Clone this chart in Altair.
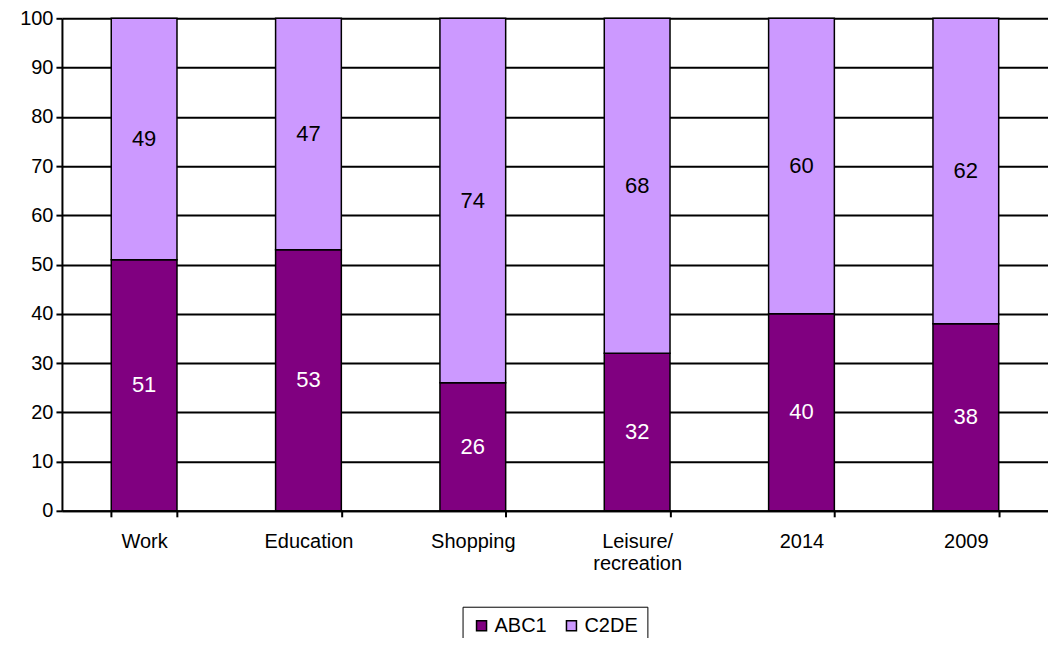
import altair as alt
import pandas as pd

categories = ["Work", "Education", "Shopping", "Leisure/recreation", "2014", "2009"]
abc1 = [51, 53, 26, 32, 40, 38]
c2de = [49, 47, 74, 68, 60, 62]
groups = ["ABC1", "C2DE"]
colors = ["#800080", "#CC99FF"]
text_colors = ["white", "black"]

rows = []
for i, c in enumerate(categories):
    rows.append({"cat": c, "group": "ABC1", "value": abc1[i], "ord": 0, "tc": text_colors[0]})
    rows.append({"cat": c, "group": "C2DE", "value": c2de[i], "ord": 1, "tc": text_colors[1]})
df = pd.DataFrame(rows)

FONT = "Liberation Sans"
FS = 20

x = alt.X("cat:N", sort=categories, title=None,
          scale=alt.Scale(paddingInner=0.6, paddingOuter=0.3),
          axis=alt.Axis(labelAngle=0, tickBand="extent", domainColor="black", domainWidth=2,
                        tickColor="black", tickWidth=2, tickSize=6, labelFontSize=FS,
                        labelFont=FONT, labelColor="black", labelPadding=15,
                        labelExpr="datum.value == 'Leisure/recreation' ? ['Leisure/', 'recreation'] : datum.value",
                        labelLineHeight=22))

base = alt.Chart(df).transform_stack(
    stack="value", groupby=["cat"], as_=["y0", "y1"], sort=[alt.SortField("ord", "ascending")]
).transform_calculate(mid="(datum.y0 + datum.y1) / 2")

bars = base.mark_bar(stroke="black", strokeWidth=1.5).encode(
    x=x,
    y=alt.Y("y0:Q", title=None,
            scale=alt.Scale(domain=[0, 100], nice=False),
            axis=alt.Axis(values=list(range(0, 101, 10)), grid=True, gridColor="black", gridWidth=2,
                          gridOpacity=1, domainColor="black", domainWidth=2, tickColor="black",
                          tickWidth=2, tickSize=6, labelFontSize=FS, labelFont=FONT,
                          labelColor="black", labelPadding=3)),
    y2="y1:Q",
    fill=alt.Fill("group:N", scale=alt.Scale(domain=groups, range=colors),
                  legend=alt.Legend(title=None, orient="none", legendX=401, legendY=589,
                                    direction="horizontal", symbolType="square", symbolSize=100,
                                    symbolStrokeColor="black", symbolStrokeWidth=1.5,
                                    labelFontSize=FS, labelFont=FONT, labelColor="black",
                                    labelOffset=3, columnPadding=14, padding=9,
                                    strokeColor="black", fillColor="white")),
)

labels = base.mark_text(fontSize=22, font=FONT).encode(
    x=alt.X("cat:N", sort=categories),
    y=alt.Y("mid:Q"),
    text=alt.Text("value:Q"),
    color=alt.Color("tc:N", scale=None),
)

chart = alt.layer(bars, labels).properties(
    width=987, height=493,
    autosize=alt.AutoSizeParams(type="none"),
    padding={"left": 54, "top": 10, "right": 0, "bottom": 127},
).configure_view(stroke="black", strokeWidth=2).configure(background="white")

chart.save("out.html", embed_options={"renderer": "svg", "actions": False})
